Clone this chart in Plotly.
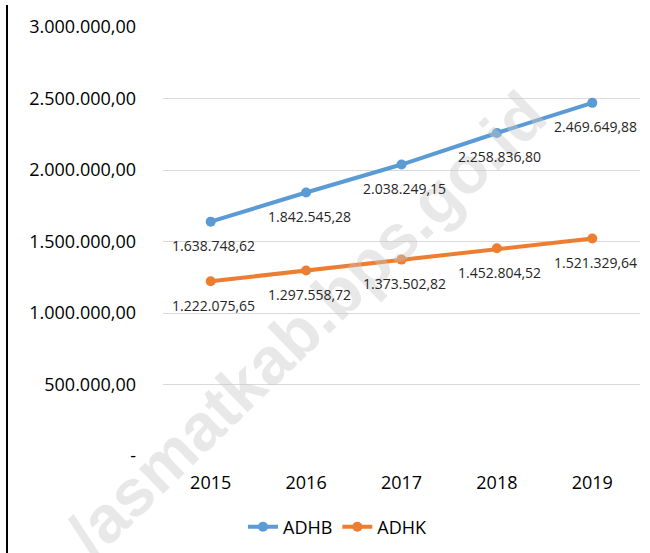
import plotly.graph_objects as go

years = ["2015", "2016", "2017", "2018", "2019"]
adhb = [1638748.62, 1842545.28, 2038249.15, 2258836.80, 2469649.88]
adhk = [1222075.65, 1297558.72, 1373502.82, 1452804.52, 1521329.64]
y_tickvals = [0, 500000, 1000000, 1500000, 2000000, 2500000, 3000000]
y_ticktext = ["-", "500.000,00", "1.000.000,00", "1.500.000,00", "2.000.000,00", "2.500.000,00", "3.000.000,00"]


def idfmt(v):
    s = f"{v:,.2f}"
    return s.replace(",", "X").replace(".", ",").replace("X", ".")


FONT = "Open Sans, Noto Sans, sans-serif"
BLUE = "#5B9BD5"
ORANGE = "#ED7D31"

W, H = 650, 553
ML, MR, MT, MB = 163, 10, 27, 97
pw, ph = W - ML - MR, H - MT - MB

fig = go.Figure()
fig.add_trace(go.Scatter(x=years, y=adhb, name="ADHB", mode="lines+markers",
                         line=dict(color=BLUE, width=4), marker=dict(size=10, color=BLUE)))
fig.add_trace(go.Scatter(x=years, y=adhk, name="ADHK", mode="lines+markers",
                         line=dict(color=ORANGE, width=4), marker=dict(size=10, color=ORANGE)))


def px(xp):
    return (xp - ML) / pw


def py(yp):
    return (H - MB - yp) / ph


annotations = []
# watermark (first so data labels sit above it)
annotations.append(dict(x=px(306), y=py(324), xref="paper", yref="paper", text="<b>/asmatkab.bps.go.id</b>",
                        showarrow=False, textangle=-44, xanchor="center", yanchor="middle",
                        font=dict(family="Liberation Sans, Arial, sans-serif", size=66, color="rgba(200,200,200,0.42)")))

for series in (adhb, adhk):
    for i, v in enumerate(series):
        annotations.append(dict(x=i, y=v, xref="x", yref="y", text=idfmt(v), showarrow=False,
                                xanchor="center", yanchor="middle",
                                xshift=3, yshift=-24, font=dict(family=FONT, size=14, color="#262626")))

fig.update_layout(
    width=W, height=H,
    margin=dict(l=ML, r=MR, t=MT, b=MB, autoexpand=False),
    paper_bgcolor="white", plot_bgcolor="white",
    font=dict(family=FONT, size=18, color="#000000"),
    annotations=annotations,
    showlegend=True,
    legend=dict(orientation="h", xref="container", yref="container", x=338 / W, xanchor="center",
                y=1 - 527 / H, yanchor="middle",
                font=dict(family=FONT, size=18, color="#000000"), itemwidth=30),
    shapes=[dict(type="line", xref="paper", yref="paper", x0=px(7), x1=px(7), y0=py(5), y1=py(553),
                 line=dict(color="black", width=2))],
)
fig.update_xaxes(type="category", range=[-0.5, 4.5], showgrid=False, zeroline=False, showline=False, ticks="",
                 automargin=False,
                 ticklabelstandoff=14, tickfont=dict(family=FONT, size=18, color="#000000"))
fig.update_yaxes(range=[0, 3000000], tickvals=y_tickvals, ticktext=y_ticktext, showgrid=True,
                 automargin=False,
                 gridcolor="#d9d9d9", gridwidth=1, zeroline=False, showline=False, ticks="",
                 ticklabelstandoff=26, tickfont=dict(family=FONT, size=18, color="#000000"))

fig.write_html("out.html", config={"displayModeBar": False},
               post_script="document.body.style.margin='0';document.body.style.overflow='hidden';")
